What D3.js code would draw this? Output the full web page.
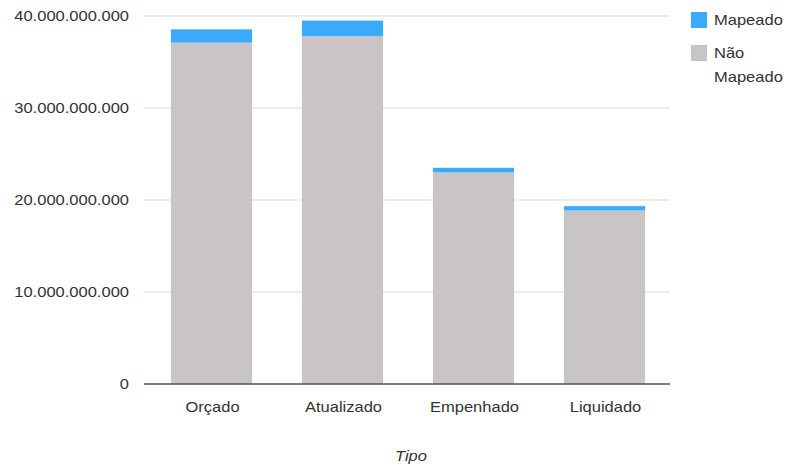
<!DOCTYPE html>
<html>
<head>
<meta charset="utf-8">
<script src="https://cdn.jsdelivr.net/npm/d3@7"></script>
<style>
  body { margin: 0; background: #fff; }
  text { font-family: "Liberation Sans", Arial, sans-serif; fill: #333; font-size: 14px; }
</style>
</head>
<body>
<div id="chart"></div>
<script>
const tipos = ['Orçado', 'Atualizado', 'Empenhado', 'Liquidado'];
const naoMapeado = [37100000000, 37800000000, 23000000000, 18860000000];
const mapeado = [1450000000, 1700000000, 500000000, 470000000];
const yTicks = [0, 10000000000, 20000000000, 30000000000, 40000000000];
const seriesNames = ['Mapeado', 'Não Mapeado'];

document.addEventListener('DOMContentLoaded', function() {
    const width = 786, height = 466;
    const margin = { top: 16, right: 116, bottom: 82, left: 146 };
    const sx = 1.18; // text in the reference is drawn a bit wide

    const svg = d3.select('#chart')
        .append('svg')
        .attr('width', width)
        .attr('height', height);

    const x = d3.scaleBand()
        .domain(tipos)
        .range([margin.left, width - margin.right])
        .paddingInner(0.38)
        .paddingOuter(0.19);

    const y = d3.scaleLinear()
        .domain([0, 40000000000])
        .range([height - margin.bottom, margin.top]);

    const fmt = d => d3.format(',')(d).replace(/,/g, '.');

    // gridlines
    svg.append('g')
        .selectAll('line')
        .data(yTicks.slice(1))
        .join('line')
        .attr('x1', margin.left - 2)
        .attr('x2', width - margin.right)
        .attr('y1', d => y(d))
        .attr('y2', d => y(d))
        .attr('stroke', '#e6e6e6')
        .attr('stroke-width', 1.5);

    // y labels
    svg.append('g')
        .selectAll('text')
        .data(yTicks)
        .join('text')
        .attr('transform', d => `translate(${margin.left - 17},${y(d)}) scale(${sx},1)`)
        .attr('dy', '0.35em')
        .attr('text-anchor', 'end')
        .text(fmt);

    const color = { 'Mapeado': '#3aabfb', 'Não Mapeado': '#c9c5c5' };

    const stackData = tipos.map((t, i) => ({ tipo: t, 'Não Mapeado': naoMapeado[i], 'Mapeado': mapeado[i] }));
    const stack = d3.stack().keys(['Não Mapeado', 'Mapeado'])(stackData);

    svg.append('g')
        .selectAll('g')
        .data(stack)
        .join('g')
        .attr('fill', d => color[d.key])
        .selectAll('rect')
        .data(d => d)
        .join('rect')
        .attr('x', d => x(d.data.tipo))
        .attr('y', d => y(d[1]))
        .attr('width', x.bandwidth())
        .attr('height', d => y(d[0]) - y(d[1]));

    // x axis line
    svg.append('line')
        .attr('x1', margin.left - 2)
        .attr('x2', width - margin.right)
        .attr('y1', y(0))
        .attr('y2', y(0))
        .attr('stroke', '#555')
        .attr('stroke-width', 1.5);

    // x labels
    svg.append('g')
        .selectAll('text')
        .data(tipos)
        .join('text')
        .attr('transform', d => `translate(${x(d) + x.bandwidth() / 2 + 1},${y(0) + 28}) scale(${sx},1)`)
        .attr('text-anchor', 'middle')
        .text(d => d);

    svg.append('text')
        .attr('transform', `translate(411,461) scale(${sx},1)`)
        .attr('text-anchor', 'middle')
        .style('font-style', 'italic')
        .text('Tipo');

    // legend
    const legend = svg.append('g').attr('transform', 'translate(691,12)');
    legend.append('rect').attr('width', 16).attr('height', 16).attr('fill', color['Mapeado']);
    legend.append('rect').attr('y', 33).attr('width', 16).attr('height', 16).attr('fill', color['Não Mapeado']);
    [['Mapeado', 13], ['Não', 46], ['Mapeado', 70]].forEach(([t, ty]) => {
        legend.append('text')
            .attr('transform', `translate(23,${ty}) scale(${sx},1)`)
            .text(t);
    });
});
</script>
</body>
</html>
